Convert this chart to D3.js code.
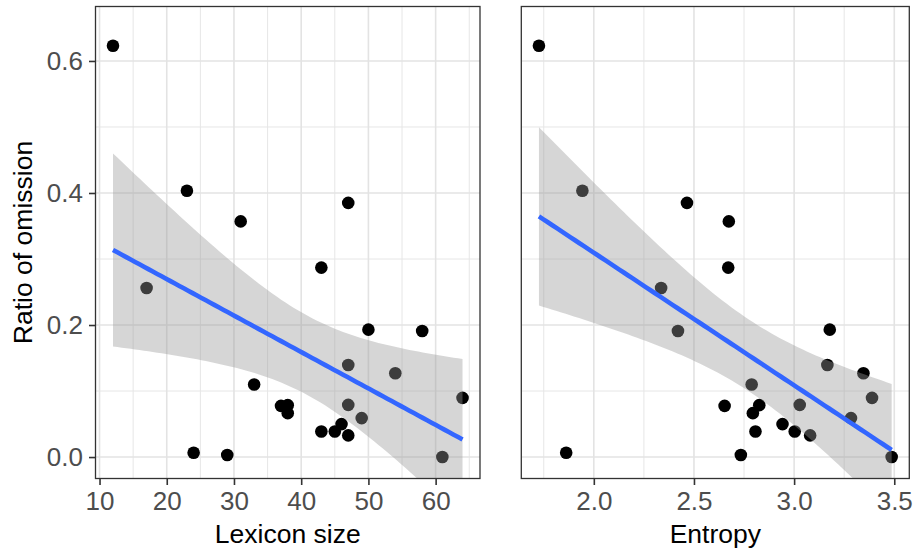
<!DOCTYPE html>
<html>
<head>
<meta charset="utf-8">
<script src="https://cdn.jsdelivr.net/npm/d3@7"></script>
<style>
  html, body { margin: 0; padding: 0; background: #ffffff; }
  svg { display: block; font-family: "Liberation Sans", Arial, sans-serif; }
</style>
</head>
<body>
<svg id="chart" width="915" height="550"></svg>
<script>
// ---- data ----
const omission = [0.623, 0.4035, 0.357, 0.385, 0.256, 0.287, 0.193, 0.191, 0.1395, 0.127, 0.0896, 0.110,
                  0.0775, 0.0786, 0.0665, 0.079, 0.059, 0.0388, 0.0388, 0.0499, 0.0328, 0.0065, 0.003, 0.0];
const lexiconSize = [12, 23, 31, 47, 17, 43, 50, 58, 47, 54, 64, 33,
                     37, 38, 38, 47, 49, 43, 45, 46, 47, 24, 29, 61];
const entropy = [1.726, 1.943, 2.674, 2.465, 2.336, 2.671, 3.178, 2.42, 3.166, 3.346, 3.389, 2.788,
                 2.653, 2.826, 2.794, 3.028, 3.284, 2.807, 3.003, 2.942, 3.08, 1.862, 2.734, 3.487];
const yTicks = [0.0, 0.2, 0.4, 0.6];
const yMinor = [0.1, 0.3, 0.5];
const yLimits = [0, 0.65];
const lexTicks = [10, 20, 30, 40, 50, 60];
const lexMinor = [15, 25, 35, 45, 55, 65];
const entTicks = [2.0, 2.5, 3.0, 3.5];
const entMinor = [1.75, 2.25, 2.75, 3.25];
const yTitle = "Ratio of omission";
const xTitles = ["Lexicon size", "Entropy"];

const svg = d3.select("#chart");
const pTop = 6.5, pBottom = 478.5;
const FS = 26.5, FT = 26;

const yR = yLimits[1] - yLimits[0];
const y = d3.scaleLinear()
  .domain([yLimits[0] - 0.05 * yR, yLimits[1] + 0.05 * yR])
  .range([pBottom, pTop]);

function expand(arr) {
  const [a, b] = d3.extent(arr);
  const r = b - a;
  return [a - 0.05 * r, b + 0.05 * r];
}

// linear fit + 95% CI (as geom_smooth(method="lm"))
function lmFit(xs, ys) {
  const n = xs.length;
  const mx = d3.mean(xs), my = d3.mean(ys);
  let sxx = 0, sxy = 0;
  for (let i = 0; i < n; i++) { sxx += (xs[i]-mx)**2; sxy += (xs[i]-mx)*(ys[i]-my); }
  const b = sxy / sxx, a = my - b * mx;
  let sse = 0;
  for (let i = 0; i < n; i++) sse += (ys[i] - a - b*xs[i])**2;
  const s = Math.sqrt(sse / (n - 2));
  const t = 2.0739; // qt(0.975, 22)
  const [lo, hi] = d3.extent(xs);
  const out = [];
  for (let k = 0; k < 80; k++) {
    const xv = lo + (hi - lo) * k / 79;
    const fit = a + b * xv;
    const se = s * Math.sqrt(1/n + (xv-mx)**2 / sxx);
    out.push({x: xv, y: fit, lo: fit - t*se, hi: fit + t*se});
  }
  return out;
}

function panel(id, x0, x1, xs, ticks, minor, fmt, title, showY) {
  const x = d3.scaleLinear().domain(expand(xs)).range([x0, x1]);
  const g = svg.append("g");
  const clipId = "clip" + id;
  svg.append("clipPath").attr("id", clipId)
    .append("rect").attr("x", x0).attr("y", pTop).attr("width", x1 - x0).attr("height", pBottom - pTop);
  const inner = g.append("g").attr("clip-path", `url(#${clipId})`);
  // grid minor
  inner.selectAll(".vmin").data(minor).join("line")
    .attr("x1", d => x(d)).attr("x2", d => x(d)).attr("y1", pTop).attr("y2", pBottom)
    .attr("stroke", "#e6e6e6").attr("stroke-width", 1);
  inner.selectAll(".hmin").data(yMinor).join("line")
    .attr("x1", x0).attr("x2", x1).attr("y1", d => y(d)).attr("y2", d => y(d))
    .attr("stroke", "#e6e6e6").attr("stroke-width", 1);
  // grid major
  inner.selectAll(".vmaj").data(ticks).join("line")
    .attr("x1", d => x(d)).attr("x2", d => x(d)).attr("y1", pTop).attr("y2", pBottom)
    .attr("stroke", "#e3e3e3").attr("stroke-width", 1.6);
  inner.selectAll(".hmaj").data(yTicks).join("line")
    .attr("x1", x0).attr("x2", x1).attr("y1", d => y(d)).attr("y2", d => y(d))
    .attr("stroke", "#e3e3e3").attr("stroke-width", 1.6);
  // points
  const pts = xs.map((v, i) => ({x: v, y: omission[i]}));
  inner.selectAll("circle").data(pts).join("circle")
    .attr("cx", d => x(d.x)).attr("cy", d => y(d.y)).attr("r", 6.3).attr("fill", "#000");
  // smooth
  const fit = lmFit(xs, omission);
  inner.append("path").datum(fit)
    .attr("d", d3.area().x(d => x(d.x)).y0(d => y(d.lo)).y1(d => y(d.hi)))
    .attr("fill", "#999999").attr("fill-opacity", 0.4);
  inner.append("path").datum(fit)
    .attr("d", d3.line().x(d => x(d.x)).y(d => y(d.y)))
    .attr("fill", "none").attr("stroke", "#3366FF").attr("stroke-width", 4.6);
  // border
  g.append("rect").attr("x", x0).attr("y", pTop).attr("width", x1 - x0).attr("height", pBottom - pTop)
    .attr("fill", "none").attr("stroke", "#333333").attr("stroke-width", 1.3);
  // x axis
  const xa = g.append("g").attr("transform", `translate(0,${pBottom})`)
    .call(d3.axisBottom(x).tickValues(ticks).tickFormat(fmt).tickSizeInner(6.5).tickSizeOuter(0).tickPadding(5));
  xa.select(".domain").remove();
  xa.selectAll("line").attr("stroke", "#333333").attr("stroke-width", 1.6);
  xa.selectAll("text").attr("fill", "#4d4d4d").attr("font-size", FT).attr("dy", "0.76em")
    .style("font-family", "'Liberation Sans', Arial, sans-serif");
  g.append("text").attr("x", (x0 + x1) / 2).attr("y", 543)
    .attr("text-anchor", "middle").attr("font-size", FS).attr("fill", "#000").text(title);
  if (showY) {
    const ya = g.append("g").attr("transform", `translate(${x0},0)`)
      .call(d3.axisLeft(y).tickValues(yTicks).tickFormat(d3.format(".1f")).tickSizeInner(6.5).tickSizeOuter(0).tickPadding(6));
    ya.select(".domain").remove();
    ya.selectAll("line").attr("stroke", "#333333").attr("stroke-width", 1.6);
    ya.selectAll("text").attr("fill", "#4d4d4d").attr("font-size", FT).attr("dy", "0.33em")
      .style("font-family", "'Liberation Sans', Arial, sans-serif");
    g.append("text")
      .attr("transform", `translate(32,${(pTop + pBottom) / 2}) rotate(-90)`)
      .attr("text-anchor", "middle").attr("font-size", FS).attr("fill", "#000").text(yTitle);
  }
}

panel("L", 95.5, 480, lexiconSize, lexTicks, lexMinor, d3.format("d"), xTitles[0], true);
panel("R", 521.3, 909.3, entropy, entTicks, entMinor, d3.format(".1f"), xTitles[1], false);
</script>
</body>
</html>
